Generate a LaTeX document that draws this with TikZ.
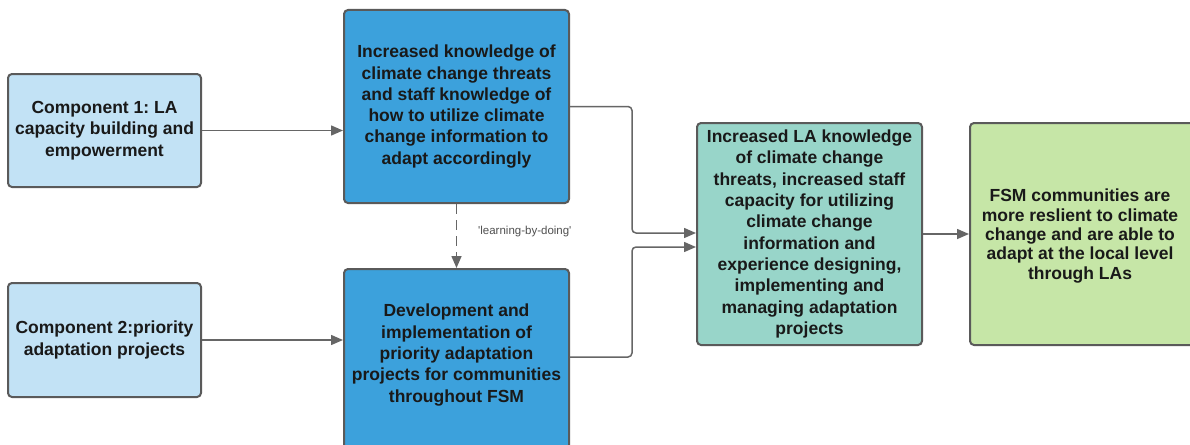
\documentclass[tikz,border=0pt]{standalone}
\usepackage{fontspec}
\setmainfont{Liberation Sans}
\usetikzlibrary{arrows.meta}
\frenchspacing
\definecolor{lightblue}{HTML}{C2E2F5}
\definecolor{midblue}{HTML}{3CA1DC}
\definecolor{tealbox}{HTML}{98D5C9}
\definecolor{greenbox}{HTML}{C6E6A7}
\definecolor{bordergray}{HTML}{5A5A5A}
\definecolor{arrowgray}{HTML}{666666}
\definecolor{labelgray}{HTML}{505050}
\tikzset{
  box/.style={draw=bordergray, line width=2pt, rounded corners=4pt, inner sep=0pt, align=center,
    font=\fontsize{17.5}{21.3}\selectfont\bfseries, text=black!90},
  txt/.style={inner sep=0pt, align=center, font=\fontsize{17.5}{21.3}\selectfont\bfseries, text=black!90},
  conn/.style={draw=arrowgray, line width=1.5pt, -{Triangle[length=12pt,width=10pt]}, rounded corners=4pt},
  lbl/.style={inner sep=0pt, font=\fontsize{11.5}{13}\selectfont, text=labelgray}
}
\begin{document}
\begin{tikzpicture}[x=1pt,y=-1pt]
\useasboundingbox (0,0) rectangle (1190,444);
\fill[white] (0,0) rectangle (1190,444);
\clip (0,0) rectangle (1190,444);
% boxes
\node[box, fill=lightblue, minimum width=193pt, minimum height=113pt] (A) at (104.5,130.5)
  {Component 1: LA\\capacity building and\\empowerment};
\node[box, fill=lightblue, minimum width=193pt, minimum height=114pt] (B) at (104.5,340)
  {Component 2:priority\\adaptation projects};
\node[box, fill=midblue, minimum width=225pt, minimum height=193pt] (C) at (456.5,106.5)
  {Increased knowledge of\\climate change threats\\and staff knowledge of\\how to utilize climate\\change information to\\adapt accordingly};
\node[box, fill=midblue, minimum width=225pt, minimum height=194pt, anchor=north] (D) at (456.5,268) {};
\node[txt] (Dt) at (456.5,355)
  {Development and\\implementation of\\priority adaptation\\projects for communities\\throughout FSM};
\node[box, fill=tealbox, minimum width=225pt, minimum height=222pt] (E) at (809.5,234)
  {Increased LA knowledge\\of climate change\\threats, increased staff\\capacity for utilizing\\climate change\\information and\\experience designing,\\implementing and\\managing adaptation\\projects};
\node[box, fill=greenbox, minimum width=235pt, minimum height=222pt, anchor=west] (F) at (969,234) {};
\node[txt, font=\fontsize{17.5}{19.3}\selectfont\bfseries] (Ft) at (1080,236)
  {FSM communities are\\more reslient to climate\\change and are able to\\adapt at the local level\\through LAs};
% junction points
\coordinate (j1) at (632,233);
\coordinate (j2) at (632,247);
% connectors
\draw[conn] (A.east) -- (A.east -| C.west);
\draw[conn] (B.east) -- (B.east -| D.west);
\draw[conn, dash pattern=on 10pt off 6pt] (C.south) -- (D.north);
\draw[conn] (C.east) -| (j1) -- (j1 -| E.west);
\draw[conn] ([yshift=-89pt]D.north east) -| (j2) -- (j2 -| E.west);
\draw[conn] (E.east) -- (E.east -| F.west);
% label
\node[lbl, anchor=west] (L) at (478,232) {\textquotesingle learning-by-doing\textquotesingle};
\end{tikzpicture}
\end{document}
